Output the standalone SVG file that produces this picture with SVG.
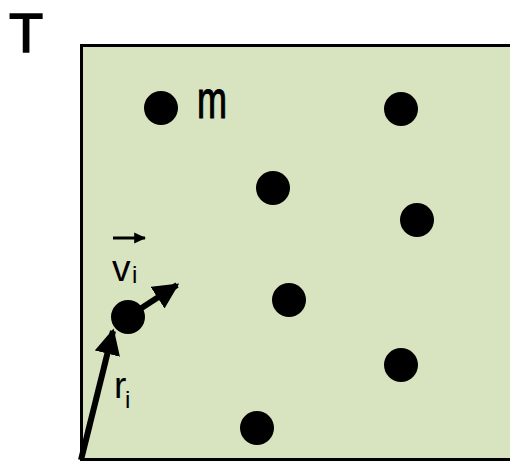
<svg xmlns="http://www.w3.org/2000/svg" width="510" height="462" viewBox="0 0 510 462">
<style>
.p{fill:#000}
.lbl{font-family:"Liberation Sans",Arial,sans-serif;fill:#000}
</style>
<defs>
<marker id="ah" viewBox="0 0 10 10" refX="9" refY="5" markerWidth="4.3" markerHeight="4.3" orient="auto" markerUnits="strokeWidth">
<path d="M0,0 L10,5 L0,10 Z" fill="#000"/>
</marker>
<marker id="ahs" viewBox="0 0 10 10" refX="9" refY="5" markerWidth="4" markerHeight="4" orient="auto" markerUnits="strokeWidth">
<path d="M0,0.5 L10,5 L0,9.5 Z" fill="#000"/>
</marker>
</defs>
<rect x="0" y="0" width="510" height="462" fill="#fff"/>
<text class="lbl" x="9" y="52" font-size="56" stroke="#000" stroke-width="1.5">T</text>
<g id="box"><rect x="81.5" y="45.5" width="440" height="414" fill="#d8e3bf" stroke="#000" stroke-width="3"/></g>
<g id="particles">
<circle class="p" cx="161" cy="108" r="17"/>
<circle class="p" cx="401" cy="109" r="17"/>
<circle class="p" cx="273" cy="188" r="17"/>
<circle class="p" cx="417" cy="220" r="17"/>
<circle class="p" cx="289" cy="300" r="17"/>
<circle class="p" cx="128" cy="317" r="17"/>
<circle class="p" cx="401" cy="365" r="17"/>
<circle class="p" cx="257" cy="428" r="17"/>
</g>
<text class="lbl" font-size="36" stroke="#000" stroke-width="0.8" transform="translate(197,118) scale(1,1.5)">m</text>
<g id="connectors">
<line x1="81" y1="460" x2="113" y2="331" stroke="#000" stroke-width="6" marker-end="url(#ah)"/>
<line x1="140" y1="309" x2="177" y2="285" stroke="#000" stroke-width="6" marker-end="url(#ah)"/>
<line x1="113" y1="238" x2="145" y2="238" stroke="#000" stroke-width="3" marker-end="url(#ahs)"/>
</g>
<text class="lbl" x="112" y="281" font-size="37">v</text>
<text class="lbl" x="132" y="283" font-size="24">i</text>
<text class="lbl" x="114" y="398" font-size="37">r</text>
<text class="lbl" x="125" y="408" font-size="24">i</text>
</svg>
